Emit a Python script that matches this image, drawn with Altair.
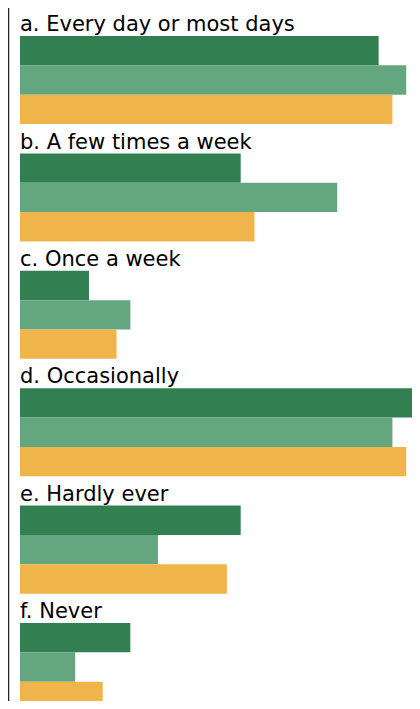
import altair as alt
import pandas as pd

categories = [
    "a. Every day or most days",
    "b. A few times a week",
    "c. Once a week",
    "d. Occasionally",
    "e. Hardly ever",
    "f. Never",
]
series = ["Series 1", "Series 2", "Series 3"]
series1 = [26, 16, 5, 29, 16, 8]
series2 = [28, 23, 8, 27, 10, 4]
series3 = [27, 17, 7, 28, 15, 6]
colors = ["#327f51", "#63a67f", "#efb54a"]

values = [series1, series2, series3]
rows_order = []
bar_records = []
label_records = []
for i, c in enumerate(categories):
    lab = f"{i}-label"
    rows_order.append(lab)
    label_records.append({"row": lab, "category": c, "x": 0})
    for s, vals in zip(series, values):
        r = f"{i}-{s}"
        rows_order.append(r)
        bar_records.append({"row": r, "category": c, "series": s, "value": vals[i]})

bars_df = pd.DataFrame(bar_records)
labels_df = pd.DataFrame(label_records)

yscale = alt.Scale(domain=rows_order, range=[-1.35, 703.05], paddingInner=0, paddingOuter=0)
xscale = alt.Scale(domain=[-0.87, 28.42], nice=False, zero=False)

bars = alt.Chart(bars_df).mark_bar().encode(
    y=alt.Y("row:N", scale=yscale, title=None,
            axis=alt.Axis(labels=False, ticks=False, grid=False, domain=True,
                          domainColor="#222222", domainWidth=1.5)),
    x=alt.X("value:Q", scale=xscale, axis=None),
    color=alt.Color("series:N", scale=alt.Scale(domain=series, range=colors), legend=None),
)

texts = alt.Chart(labels_df).mark_text(
    align="left", baseline="alphabetic", dy=9.8, fontSize=21,
    font="DejaVu Sans", color="#000000",
).encode(
    y=alt.Y("row:N", scale=yscale, title=None),
    x=alt.X("x:Q", scale=xscale, axis=None),
    text="category:N",
)

chart = alt.layer(bars, texts).properties(
    width=404, height=693,
    padding={"left": 0, "top": 0, "right": 0, "bottom": 0},
    autosize=alt.AutoSizeParams(type="none"),
).configure_view(strokeWidth=0)

chart.save("out.html", embed_options={"renderer": "svg", "actions": False})
